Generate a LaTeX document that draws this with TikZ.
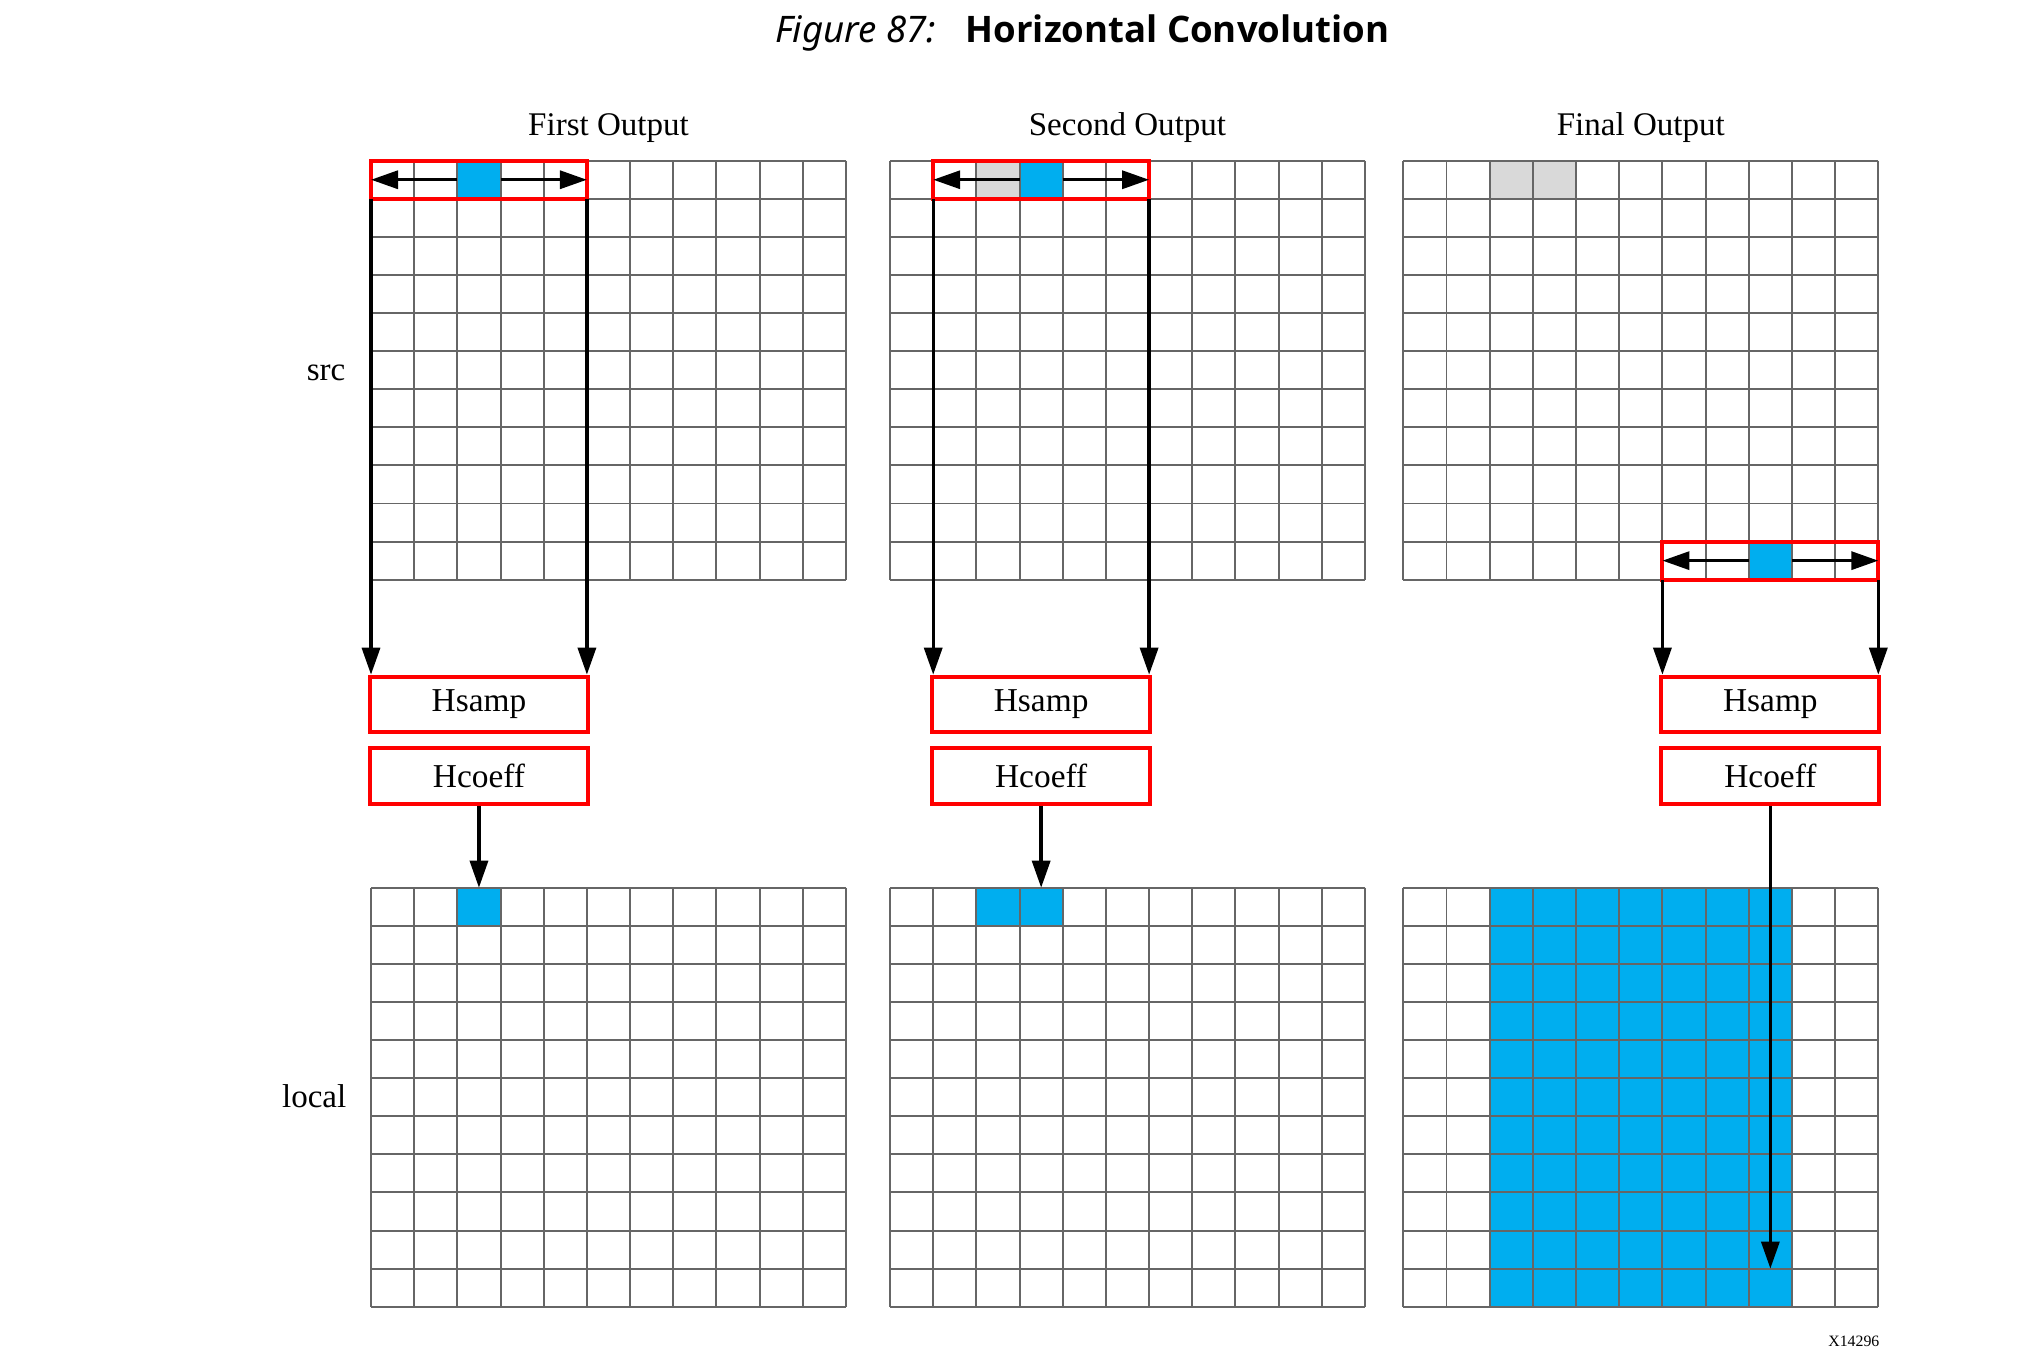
\documentclass[tikz,border=0pt]{standalone}
\usepackage{fontspec}
\setmainfont{Liberation Serif}
\newfontfamily\titlefont{Noto Sans}
\newfontfamily\titlebold{Open Sans}
\usetikzlibrary{positioning,arrows.meta}
\definecolor{gridgray}{HTML}{666666}
\definecolor{hotblue}{HTML}{00AEEF}
\definecolor{usedgray}{HTML}{D9D9D9}

\begin{document}
\begin{tikzpicture}[
  x=0.1mm, y=-0.1mm,
  gridline/.style={draw=gridgray, line width=0.55pt},
  hot/.style={rectangle, fill=hotblue, minimum width=4.318mm, minimum height=3.809mm, inner sep=0pt, outer sep=0pt, anchor=north west},
  used/.style={hot, fill=usedgray},
  win/.style={rectangle, draw=red, line width=1.15pt, minimum width=21.59mm, minimum height=3.809mm, inner sep=0pt, outer sep=0pt, anchor=north west},
  box/.style={rectangle, draw=red, line width=1.15pt, minimum width=21.8mm, minimum height=5.56mm, inner sep=0pt, font=\fontsize{9.5}{11}\selectfont},
  lbl/.style={inner sep=0pt, font=\fontsize{9.4}{11}\selectfont},
  arr/.style={-{Triangle[length=2.7mm, width=1.8mm]}, line width=0.95pt},
  node distance=1.2mm
]
  \useasboundingbox (0,0) rectangle (2040,1364);

  \node[anchor=base west, inner sep=0pt, font=\titlefont\itshape\fontsize{10.4}{12}\selectfont] (fig) at (774.7,42) {Figure 87:};
  \node[anchor=base west, inner sep=0pt, font=\titlebold\bfseries\fontsize{10.4}{12}\selectfont] (ttl) at (965,42) {Horizontal Convolution};

  \node[lbl, anchor=base] (out1) at (608.5,135.7) {First Output};
  \node[lbl, anchor=base] (out2) at (1127.5,135.7) {Second Output};
  \node[lbl, anchor=base] (out3) at (1640.8,135.7) {Final Output};
  \node[lbl, anchor=base east] (src) at (346,380.7) {src};
  \node[lbl, anchor=base east] (loc) at (347,1107.7) {local};

  % filled cells
  \node[hot] (b1) at (457.4,160.7) {};
  \node[used] (g2) at (976.4,160.7) {};
  \node[hot] (b2) at (1019.5,160.7) {};
  \node[used] (g3a) at (1489.7,160.7) {};
  \node[used] (g3b) at (1532.8,160.7) {};
  \node[hot] (b3) at (1748.7,541.6) {};
  \node[hot] (l1) at (457.4,887.7) {};
  \node[hot] (l2a) at (976.4,887.7) {};
  \node[hot] (l2b) at (1019.5,887.7) {};
  \fill[hotblue] (1489.7,887.7) rectangle ++(302.3,419);

  % grids
  \foreach \gx in {371,890,1403.3}
    \foreach \gy in {160.7,887.7}
      \foreach \i in {0,...,11} {
        \draw[gridline] (\gx+\i*43.18,\gy) -- ++(0,419);
        \draw[gridline] (\gx,\gy+\i*38.09) -- ++(475,0);
      }

  \node[win] (w1) at (371,160.7) {};
  \node[win] (w2) at (933.2,160.7) {};
  \node[win] (w3) at (1662.4,541.6) {};

  \draw[arr] (b1.west) -- (w1.west);
  \draw[arr] (b1.east) -- (w1.east);
  \draw[arr] (b2.west) -- (w2.west);
  \draw[arr] (b2.east) -- (w2.east);
  \draw[arr] (b3.west) -- (w3.west);
  \draw[arr] (b3.east) -- (w3.east);

  \coordinate (boxrow) at (0,704.5);
  \node[box] (hs1) at (w1 |- boxrow) {Hsamp};
  \node[box, below=of hs1] (hc1) {Hcoeff};
  \node[box] (hs2) at (w2 |- boxrow) {Hsamp};
  \node[box, below=of hs2] (hc2) {Hcoeff};
  \node[box] (hs3) at (w3 |- boxrow) {Hsamp};
  \node[box, below=of hs3] (hc3) {Hcoeff};

  \draw[arr] (w1.south west) -- (w1.south west |- hs1.north);
  \draw[arr] (w1.south east) -- (w1.south east |- hs1.north);
  \draw[arr] (w2.south west) -- (w2.south west |- hs2.north);
  \draw[arr] (w2.south east) -- (w2.south east |- hs2.north);
  \draw[arr] (w3.south west) -- (w3.south west |- hs3.north);
  \draw[arr] (w3.south east) -- (w3.south east |- hs3.north);

  \coordinate (ltop) at (0,887.7);
  \coordinate (lrow) at (0,1268.6);
  \draw[arr] (hc1.south) -- (hc1.south |- ltop);
  \draw[arr] (hc2.south) -- (hc2.south |- ltop);
  \draw[arr] (hc3.south) -- (hc3.south |- lrow);

  \node[anchor=base east, inner sep=0pt, font=\fontsize{4.5}{5}\selectfont] (xid) at (1880,1346.7) {X14296};
\end{tikzpicture}
\end{document}
